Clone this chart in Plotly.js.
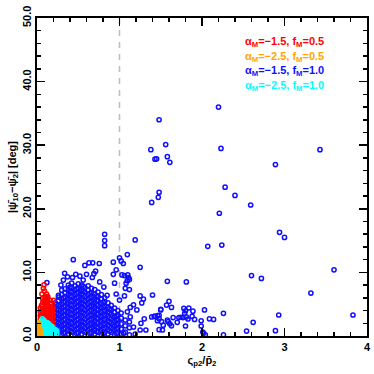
<!DOCTYPE html>
<html>
<head>
<meta charset="utf-8">
<script src="https://cdn.plot.ly/plotly-3.0.1.min.js"></script>
<style>
  html, body { margin: 0; padding: 0; background: #ffffff; }
  #chart { width: 374px; height: 374px; }
</style>
</head>
<body>
<div id="chart"></div>
<script>
// Model labels (legend text drawn in the top right corner)
const SERIES_LABELS = [
  'α<sub>M</sub>=−1.5, f<sub>M</sub>=0.5',
  'α<sub>M</sub>=−2.5, f<sub>M</sub>=0.5',
  'α<sub>M</sub>=−1.5, f<sub>M</sub>=1.0',
  'α<sub>M</sub>=−2.5, f<sub>M</sub>=1.0'
];
const SERIES_COLORS = ['#ff0000', '#ffa500', '#1010ff', '#00ffff'];

const X_TICKS = [0, 1, 2, 3, 4];
const X_TICK_LABELS = ['0', '1', '2', '3', '4'];
const Y_TICKS = [0, 10, 20, 30, 40, 50];
const Y_TICK_LABELS = ['0.0', '10.0', '20.0', '30.0', '40.0', '50.0'];
const REF_RATIO = 1;

// alpha=-1.5, f=1.0 : scattered points
const BLUE_X = [
  1.48, 1.38, 1.43, 1.45, 1.56, 1.58, 1.61, 2.20, 2.23, 3.43, 2.89, 2.28, 2.40,
  2.59, 2.21, 2.94, 3.00, 2.07, 2.24, 2.60, 2.72, 3.60, 3.32, 3.83, 2.93, 2.62,
  2.54, 2.89, 2.26, 2.26, 1.48, 1.47, 1.39, 0.82, 0.82, 0.82, 1.19, 1.095, 0.925,
  1.00, 1.25, 1.40, 1.58, 1.81, 1.60, 1.57, 1.63, 1.50, 1.46, 1.42, 1.48, 1.51,
  1.53, 1.48, 1.59, 1.61, 1.63, 1.65, 1.70, 1.72, 1.745, 1.77, 1.78, 1.80, 1.79,
  1.84, 1.89, 1.88, 1.91, 1.81, 1.83, 1.80, 1.99, 2.03, 2.09, 2.14, 1.99, 2.01,
  2.04, 2.02, 0.675, 0.755, 0.925, 0.96, 1.03, 1.06, 1.10, 1.11, 1.095, 1.12,
  1.08, 1.07, 1.12, 0.94, 1.25, 1.06, 1.17, 1.29, 1.27, 1.50, 1.43, 1.48, 1.46,
  1.30, 1.26, 1.17, 1.25, 1.32, 1.52, 1.05, 1.19, 1.58, 1.13, 1.095, 1.21, 1.13,
  1.39, 1.00, 0.96, 0.335, 0.37, 0.43, 0.47, 0.52, 0.56, 0.60, 0.67, 0.69, 0.76,
  0.32, 0.29, 0.30, 0.26, 0.81, 0.85, 0.58, 0.63, 0.44, 0.71, 0.12, 1.02, 1.046
];
const BLUE_Y = [
  34.0, 29.3, 27.8, 27.85, 30.1, 28.2, 27.3, 36.0, 29.5, 29.3, 26.95, 23.4, 22.1,
  20.6, 19.3, 16.3, 15.5, 14.1, 14.3, 9.5, 9.06, 10.4, 6.75, 3.3, 3.3, 2.15,
  0.78, 0.84, 3.56, 0.2, 22.6, 21.8, 21.0, 16.0, 15.0, 14.2, 15.1, 12.8, 11.6,
  12.3, 10.8, 6.45, 8.6, 8.5, 5.45, 4.87, 4.5, 4.1, 3.2, 3.1, 2.7, 2.25,
  1.7, 1.0, 2.25, 1.93, 1.6, 2.9, 2.15, 2.9, 2.95, 2.9, 4.35, 3.97, 3.56,
  4.4, 3.9, 3.1, 2.6, 3.0, 2.67, 1.57, 2.4, 4.1, 2.7, 2.6, 1.57, 0.63,
  0.2, 0.42, 11.5, 11.4, 9.7, 10.4, 9.6, 9.5, 9.6, 9.2, 8.7, 8.9,
  8.3, 7.5, 7.3, 8.3, 6.3, 6.3, 4.9, 5.8, 5.2, 4.2, 3.1, 3.25, 2.4,
  2.7, 2.0, 1.4, 0.94, 0.94, 0.94, 0.4, 0.3, 2.5, 4.5, 3.8, 4.1, 3.0,
  3.0, 5.65, 6.6, 9.85, 9.3, 9.2, 9.7, 9.4, 8.8, 9.7, 9.2, 9.8, 8.5,
  8.8, 8.0, 7.2, 6.4, 7.7, 6.4, 11.1, 11.5, 12.0, 10.2, 8.4, 11.8, 11.4
];

// alpha=-1.5, f=1.0 : the dense cloud, estimated column by column
const BLUE_CLOUD_X = [
  0.22, 0.22, 0.22, 0.22, 0.22, 0.22, 0.22, 0.22,
  0.26, 0.26, 0.26, 0.26, 0.26, 0.26, 0.26, 0.26, 0.26,
  0.30, 0.30, 0.30, 0.30, 0.30, 0.30, 0.30, 0.30, 0.30, 0.30,
  0.34, 0.34, 0.34, 0.34, 0.34, 0.34, 0.34, 0.34, 0.34, 0.34, 0.34,
  0.38, 0.38, 0.38, 0.38, 0.38, 0.38, 0.38, 0.38, 0.38, 0.38, 0.38, 0.38,
  0.42, 0.42, 0.42, 0.42, 0.42, 0.42, 0.42, 0.42, 0.42, 0.42, 0.42, 0.42,
  0.46, 0.46, 0.46, 0.46, 0.46, 0.46, 0.46, 0.46, 0.46, 0.46, 0.46, 0.46,
  0.50, 0.50, 0.50, 0.50, 0.50, 0.50, 0.50, 0.50, 0.50, 0.50, 0.50, 0.50,
  0.54, 0.54, 0.54, 0.54, 0.54, 0.54, 0.54, 0.54, 0.54, 0.54, 0.54, 0.54,
  0.58, 0.58, 0.58, 0.58, 0.58, 0.58, 0.58, 0.58, 0.58, 0.58, 0.58,
  0.62, 0.62, 0.62, 0.62, 0.62, 0.62, 0.62, 0.62, 0.62, 0.62, 0.62, 0.62,
  0.66, 0.66, 0.66, 0.66, 0.66, 0.66, 0.66, 0.66, 0.66, 0.66, 0.66,
  0.70, 0.70, 0.70, 0.70, 0.70, 0.70, 0.70, 0.70, 0.70, 0.70, 0.70,
  0.74, 0.74, 0.74, 0.74, 0.74, 0.74, 0.74, 0.74, 0.74, 0.74,
  0.78, 0.78, 0.78, 0.78, 0.78, 0.78, 0.78, 0.78, 0.78, 0.78,
  0.82, 0.82, 0.82, 0.82, 0.82, 0.82, 0.82, 0.82, 0.82,
  0.86, 0.86, 0.86, 0.86, 0.86, 0.86, 0.86, 0.86,
  0.90, 0.90, 0.90, 0.90, 0.90, 0.90, 0.90,
  0.94, 0.94, 0.94, 0.94, 0.94, 0.94, 0.94,
  0.98, 0.98, 0.98, 0.98, 0.98, 0.98,
  1.02, 1.02, 1.02, 1.02, 1.02,
  1.07, 1.07, 1.07,
  1.12, 1.12, 1.12,
  // second, offset pass through the cloud to close the gaps between rings
  0.24, 0.24, 0.24, 0.24, 0.24, 0.24, 0.24,
  0.32, 0.32, 0.32, 0.32, 0.32, 0.32, 0.32, 0.32, 0.32,
  0.40, 0.40, 0.40, 0.40, 0.40, 0.40, 0.40, 0.40, 0.40, 0.40, 0.40,
  0.48, 0.48, 0.48, 0.48, 0.48, 0.48, 0.48, 0.48, 0.48, 0.48, 0.48,
  0.56, 0.56, 0.56, 0.56, 0.56, 0.56, 0.56, 0.56, 0.56, 0.56, 0.56,
  0.64, 0.64, 0.64, 0.64, 0.64, 0.64, 0.64, 0.64, 0.64, 0.64,
  0.72, 0.72, 0.72, 0.72, 0.72, 0.72, 0.72, 0.72, 0.72,
  0.80, 0.80, 0.80, 0.80, 0.80, 0.80, 0.80, 0.80,
  0.88, 0.88, 0.88, 0.88, 0.88, 0.88,
  0.96, 0.96, 0.96, 0.96, 0.96
];
const BLUE_CLOUD_Y = [
  0.3, 1.0, 1.7, 2.4, 3.1, 3.8, 4.5, 5.2,
  0.6, 1.3, 2.0, 2.7, 3.4, 4.1, 4.8, 5.5, 6.1,
  0.2, 0.9, 1.6, 2.3, 3.0, 3.7, 4.4, 5.1, 5.8, 6.5,
  0.5, 1.2, 1.9, 2.6, 3.3, 4.0, 4.7, 5.4, 6.1, 6.8, 7.4,
  0.3, 1.0, 1.7, 2.4, 3.1, 3.8, 4.5, 5.2, 5.9, 6.6, 7.3, 8.0,
  0.6, 1.3, 2.0, 2.7, 3.4, 4.1, 4.8, 5.5, 6.2, 6.9, 7.6, 8.3,
  0.2, 0.9, 1.6, 2.3, 3.0, 3.7, 4.4, 5.1, 5.8, 6.5, 7.2, 7.9,
  0.5, 1.2, 1.9, 2.6, 3.3, 4.0, 4.7, 5.4, 6.1, 6.8, 7.5, 8.2,
  0.3, 1.0, 1.7, 2.4, 3.1, 3.8, 4.5, 5.2, 5.9, 6.6, 7.3, 8.0,
  0.6, 1.3, 2.0, 2.7, 3.4, 4.1, 4.8, 5.5, 6.2, 6.9, 7.6,
  0.2, 0.9, 1.6, 2.3, 3.0, 3.7, 4.4, 5.1, 5.8, 6.5, 7.2, 7.9,
  0.5, 1.2, 1.9, 2.6, 3.3, 4.0, 4.7, 5.4, 6.1, 6.8, 7.5,
  0.3, 1.0, 1.7, 2.4, 3.1, 3.8, 4.5, 5.2, 5.9, 6.6, 7.3,
  0.6, 1.3, 2.0, 2.7, 3.4, 4.1, 4.8, 5.5, 6.2, 6.9,
  0.2, 0.9, 1.6, 2.3, 3.0, 3.7, 4.4, 5.1, 5.8, 6.5,
  0.5, 1.2, 1.9, 2.6, 3.3, 4.0, 4.7, 5.4, 6.0,
  0.3, 1.0, 1.7, 2.4, 3.1, 3.8, 4.5, 5.2,
  0.6, 1.3, 2.0, 2.7, 3.4, 4.1, 4.8,
  0.2, 0.9, 1.6, 2.3, 3.0, 3.7, 4.4,
  0.5, 1.2, 1.9, 2.6, 3.3, 4.0,
  0.3, 1.1, 1.9, 2.8, 3.6,
  0.6, 1.6, 2.5,
  0.2, 1.3, 2.2,
  0.8, 1.5, 2.2, 2.9, 3.6, 4.3, 5.0,
  0.4, 1.1, 1.8, 2.5, 3.2, 3.9, 4.6, 5.3, 6.0,
  0.7, 1.4, 2.1, 2.8, 3.5, 4.2, 4.9, 5.6, 6.3, 7.0, 7.7,
  0.4, 1.1, 1.8, 2.5, 3.2, 3.9, 4.6, 5.3, 6.0, 6.7, 7.4,
  0.8, 1.5, 2.2, 2.9, 3.6, 4.3, 5.0, 5.7, 6.4, 7.1, 7.8,
  0.4, 1.1, 1.8, 2.5, 3.2, 3.9, 4.6, 5.3, 6.0, 6.7,
  0.7, 1.4, 2.1, 2.8, 3.5, 4.2, 4.9, 5.6, 6.3,
  0.4, 1.1, 1.8, 2.5, 3.2, 3.9, 4.6, 5.3,
  0.8, 1.5, 2.2, 2.9, 3.6, 4.3,
  0.4, 1.1, 1.8, 2.5, 3.2
];

// alpha=-1.5, f=0.5
const RED_X = [
  0.04, 0.04, 0.04, 0.04, 0.04, 0.04, 0.04, 0.04,
  0.07, 0.07, 0.07, 0.07, 0.07, 0.07, 0.07, 0.07, 0.07, 0.07,
  0.10, 0.10, 0.10, 0.10, 0.10, 0.10, 0.10, 0.10, 0.10, 0.10, 0.10,
  0.13, 0.13, 0.13, 0.13, 0.13, 0.13, 0.13, 0.13, 0.13, 0.13, 0.13,
  0.16, 0.16, 0.16, 0.16, 0.16, 0.16, 0.16, 0.16, 0.16, 0.16,
  0.19, 0.19, 0.19, 0.19, 0.19, 0.19, 0.19, 0.19,
  0.085, 0.077, 0.09, 0.06, 0.115, 0.2,
  0.055, 0.055, 0.055, 0.085, 0.085, 0.085, 0.115, 0.115, 0.115, 0.145, 0.145, 0.175
];
const RED_Y = [
  0.5, 1.0, 1.5, 2.0, 2.6, 3.2, 3.8, 4.4,
  0.5, 1.1, 1.7, 2.3, 2.9, 3.5, 4.1, 4.7, 5.3, 5.9,
  0.3, 0.9, 1.5, 2.1, 2.7, 3.3, 3.9, 4.5, 5.1, 5.7, 6.2,
  0.6, 1.2, 1.8, 2.4, 3.0, 3.6, 4.2, 4.8, 5.4, 5.9, 6.2,
  0.4, 1.0, 1.6, 2.2, 2.8, 3.4, 4.0, 4.6, 5.1, 5.6,
  0.7, 1.3, 1.9, 2.5, 3.1, 3.7, 4.2, 4.6,
  8.05, 7.5, 7.07, 6.6, 6.6, 5.6,
  3.3, 4.0, 4.8, 3.0, 4.4, 5.6, 3.6, 4.8, 5.9, 3.2, 4.4, 3.9
];

// alpha=-2.5, f=1.0
const CYAN_X = [
  0.04, 0.04, 0.04, 0.04, 0.04,
  0.065, 0.065, 0.065, 0.065, 0.065, 0.065,
  0.09, 0.09, 0.09, 0.09, 0.09,
  0.12, 0.12, 0.12, 0.12, 0.12,
  0.15, 0.15, 0.15, 0.15,
  0.18, 0.18, 0.18, 0.18,
  0.21, 0.21, 0.21,
  0.24, 0.24,
  0.05, 0.08, 0.105, 0.135, 0.165, 0.195, 0.225, 0.08, 0.135
];
const CYAN_Y = [
  0.2, 0.7, 1.2, 1.7, 2.1,
  0.3, 0.8, 1.3, 1.8, 2.3, 2.7,
  0.2, 0.7, 1.2, 1.7, 2.3,
  0.3, 0.8, 1.3, 1.8, 2.1,
  0.2, 0.7, 1.2, 1.8,
  0.3, 0.8, 1.2, 1.5,
  0.2, 0.6, 1.1,
  0.3, 0.8,
  1.0, 1.5, 0.5, 1.0, 1.5, 0.5, 0.9, 2.5, 2.0
];

// alpha=-2.5, f=0.5
const ORANGE_X = [0.01, 0.01, 0.01, 0.01, 0.025, 0.025, 0.025, 0.025, 0.04, 0.04, 0.015, 0.03];
const ORANGE_Y = [0.2, 0.7, 1.2, 1.7, 0.4, 0.9, 1.4, 1.9, 0.3, 0.9, 2.1, 1.1];

const FONT = {family: 'Liberation Sans, Arial, sans-serif', size: 11, color: '#000000', weight: 'bold'};

function makeTrace(xs, ys, color) {
  return {
    x: xs,
    y: ys,
    type: 'scatter',
    mode: 'markers',
    marker: {symbol: 'circle-open', size: 4.2, color: color, line: {width: 1.5, color: color}},
    showlegend: false,
    hoverinfo: 'skip'
  };
}

const traces = [
  makeTrace(BLUE_X, BLUE_Y, SERIES_COLORS[2]),
  makeTrace(BLUE_CLOUD_X, BLUE_CLOUD_Y, SERIES_COLORS[2]),
  makeTrace(RED_X, RED_Y, SERIES_COLORS[0]),
  makeTrace(CYAN_X, CYAN_Y, SERIES_COLORS[3]),
  makeTrace(ORANGE_X, ORANGE_Y, SERIES_COLORS[1])
];

const LEGEND_ROWS_Y = [0.923, 0.876, 0.832, 0.785];
const annotations = SERIES_LABELS.map((label, i) => ({
  xref: 'paper', yref: 'paper',
  x: 0.624, y: LEGEND_ROWS_Y[i],
  xanchor: 'left', yanchor: 'middle',
  text: label,
  showarrow: false,
  font: {family: FONT.family, size: 11, color: SERIES_COLORS[i], weight: 'bold'}
}));

const axisCommon = {
  showgrid: false,
  zeroline: false,
  showline: true,
  linecolor: '#000000',
  linewidth: 2,
  mirror: 'allticks',
  ticks: 'inside',
  ticklen: 8,
  tickwidth: 1.5,
  tickcolor: '#000000',
  tickfont: FONT,
  fixedrange: true
};

const layout = {
  width: 374,
  height: 374,
  margin: {l: 37, r: 7, t: 18, b: 38},
  paper_bgcolor: '#ffffff',
  plot_bgcolor: '#ffffff',
  xaxis: Object.assign({}, axisCommon, {
    range: [0, 4],
    tickmode: 'array',
    tickvals: X_TICKS,
    ticktext: X_TICK_LABELS,
    minor: {dtick: 0.2, ticks: 'inside', ticklen: 4, tickwidth: 1.5, tickcolor: '#000000'},
    title: {text: 'ς<sub>p2</sub>/p̄<sub>2</sub>', font: FONT, standoff: 4}
  }),
  yaxis: Object.assign({}, axisCommon, {
    range: [0, 50],
    tickmode: 'array',
    tickvals: Y_TICKS,
    ticktext: Y_TICK_LABELS,
    tickangle: -90,
    minor: {dtick: 2, ticks: 'inside', ticklen: 4, tickwidth: 1.5, tickcolor: '#000000'},
    title: {text: '|ψ̄<sub>10</sub>−ψ̄<sub>2</sub>| [deg]', font: FONT, standoff: 2}
  }),
  shapes: [{
    type: 'line', xref: 'x', yref: 'paper',
    x0: REF_RATIO, x1: REF_RATIO, y0: 0, y1: 1,
    line: {color: '#bbbbbb', width: 1.5, dash: '6px,6px'},
    layer: 'below'
  }],
  annotations: annotations
};

Plotly.newPlot('chart', traces, layout, {displayModeBar: false, staticPlot: true});
</script>
</body>
</html>
